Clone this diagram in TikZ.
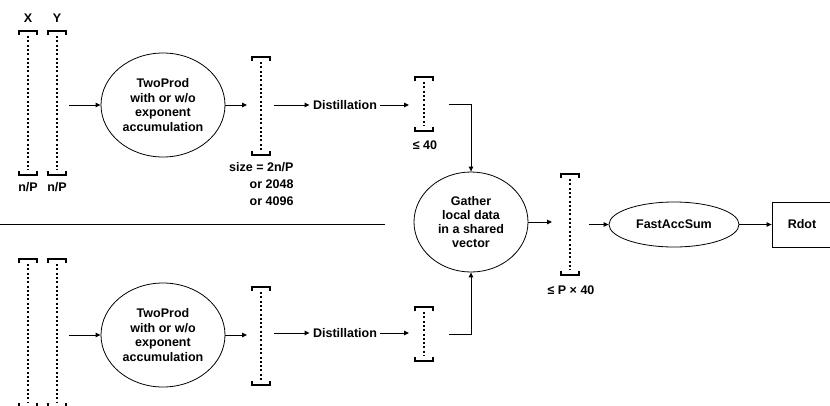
\documentclass[tikz,border=0pt]{standalone}
\usepackage{fontspec}
\setmainfont{Liberation Sans}
\usetikzlibrary{arrows.meta,positioning,shapes.geometric}

% vector: name, x, top, bottom (pixel units, y downwards)
\newcommand{\vect}[4]{%
  \pgfmathsetmacro\vmid{(#3+#4)/2}\pgfmathsetmacro\vlen{#4-#3}%
  \node[vecbox, minimum height=\vlen pt] (#1) at (#2,\vmid) {};
  \draw[brk] ([yshift=-4pt]#1.north west) |- (#1.north east) -- ++(0,4);
  \draw[brk] ([yshift=4pt]#1.south west) |- (#1.south east) -- ++(0,-4);
  \draw[dots] ([yshift=-5pt]#1.north) -- ([yshift=5pt]#1.south);
}

\begin{document}
\begin{tikzpicture}[
  x=1pt, y=-1pt,
  font=\fontsize{12.5}{14.8}\selectfont\bfseries,
  vecbox/.style={rectangle, inner sep=0pt, outer sep=0pt, minimum width=18pt},
  brk/.style={line width=1.8pt},
  dots/.style={line width=2.2pt, dash pattern=on 2pt off 2.3pt},
  oval/.style={draw, ellipse, line width=0.8pt, inner sep=0pt, align=center},
  outbox/.style={draw, rectangle, line width=0.8pt, minimum width=60pt, minimum height=45pt},
  arr/.style={-{Triangle[length=5pt,width=4.5pt]}, line width=1pt},
  sep/.style={line width=1pt}
]
\useasboundingbox (0,0) rectangle (830,405);

% upper half
\node (xlab) at (28,18) {X};
\node (ylab) at (57,18) {Y};
\vect{xt}{28}{31}{175}
\vect{yt}{57}{31}{175}
\node (np1) at (28,187) {n/P};
\node (np2) at (57,187) {n/P};
\node[oval, minimum width=124pt, minimum height=104pt] (tp1) at (163,105) {TwoProd\\with or w/o\\exponent\\accumulation};
\vect{vt}{261}{57}{155}
\node[align=right, anchor=north east, font=\fontsize{12.5}{17}\selectfont\bfseries] (sizelab) at (297,159) {size = 2n/P\\or 2048\\or 4096};
\node (dist1) at (345,105) {Distillation};
\vect{st}{424}{77}{131}
\node (le40) at (425,145) {≤ 40};

\draw[arr, shorten <=3pt] (yt.east |- tp1.west) -- (tp1.west);
\draw[arr, shorten >=5pt] (tp1.east) -- (tp1.east -| vt.west);
\draw[arr, shorten <=4pt] (vt.east |- dist1.west) -- (dist1.west);
\draw[arr, shorten >=6pt] (dist1.east) -- (dist1.east -| st.west);

% separator
\coordinate (sepL) at (0,224);
\coordinate (sepR) at (385,224);
\draw[sep] (sepL) -- (sepR);

% lower half
\vect{xb}{28}{259}{407}
\vect{yb}{57}{259}{407}
\node[oval, minimum width=124pt, minimum height=104pt] (tp2) at (163,335) {TwoProd\\with or w/o\\exponent\\accumulation};
\vect{vb}{261}{287}{385}
\node (dist2) at (345,333) {Distillation};
\vect{sb}{424}{307}{361}

\draw[arr, shorten <=3pt] (yb.east |- tp2.west) -- (tp2.west);
\draw[arr, shorten >=5pt] (tp2.east) -- (tp2.east -| vb.west);
\draw[arr, shorten <=4pt] (vb.east |- dist2.west) -- (dist2.west);
\draw[arr, shorten >=6pt] (dist2.east) -- (dist2.east -| sb.west);

% gathering and final sum
\node[oval, minimum width=114pt, minimum height=100pt, font=\fontsize{12.5}{14}\selectfont\bfseries] (gather) at (471,222) {Gather\\local data\\in a shared\\vector};
\vect{vg}{570}{174}{275}
\node (lep40) at (571,290) {≤ P × 40};
\node[oval, minimum width=130pt, minimum height=45pt] (fas) at (674,224.5) {FastAccSum};
\node[outbox] (rdot) at (802,224.5) {Rdot};

\draw[arr, shorten <=16pt] (st.east) -| (gather.north);
\draw[arr, shorten <=16pt] (sb.east) -| (gather.south);
\draw[arr, shorten >=9pt] (gather.east) -- (gather.east -| vg.west);
\draw[arr, shorten <=10pt] (vg.east |- fas.west) -- (fas.west);
\draw[arr] (fas) -- (rdot);
\end{tikzpicture}
\end{document}
